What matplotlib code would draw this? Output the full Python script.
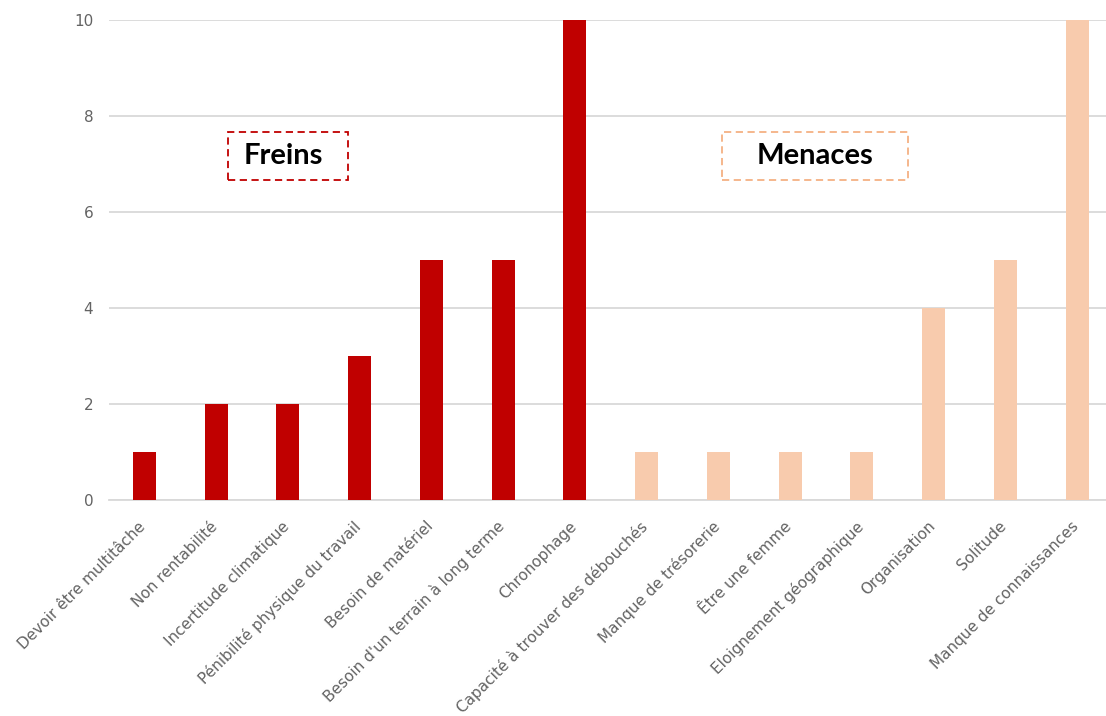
import matplotlib
matplotlib.use("Agg")
import matplotlib.pyplot as plt
from matplotlib.patches import Rectangle
from matplotlib.transforms import ScaledTranslation

categories = [
    "Devoir être multitâche", "Non rentabilité", "Incertitude climatique",
    "Pénibilité physique du travail", "Besoin de matériel",
    "Besoin d'un terrain à long terme", "Chronophage",
    "Capacité à trouver des débouchés", "Manque de trésorerie",
    "Être une femme", "Eloignement géographique", "Organisation",
    "Solitude", "Manque de connaissances",
]
values = [1, 2, 2, 3, 5, 5, 10, 1, 1, 1, 1, 4, 5, 10]
groups = ["Freins"] * 7 + ["Menaces"] * 7
group_colors = {"Freins": "#C00000", "Menaces": "#F8CBAD"}
box_colors = {"Freins": "#C00000", "Menaces": "#F4B183"}
yticks = [0, 2, 4, 6, 8, 10]

plt.rcParams['font.family'] = ['DejaVu Sans']

fig = plt.figure(figsize=(11.06, 7.16), dpi=100)
W, H = 1106, 716
left, right, top, bottom = 108.6, 1113.0, 20, 500
ax = fig.add_axes([left / W, 1 - bottom / H, (right - left) / W, (bottom - top) / H])

x = list(range(len(categories)))
ax.bar(x, values, width=0.32, color=[group_colors[g] for g in groups], zorder=3)

ax.set_xlim(-0.5, len(categories) - 0.5)
ax.set_ylim(0, 10)
ax.set_yticks(yticks)
ax.yaxis.grid(True, color="#D9D9D9", linewidth=1.3, zorder=0)
ax.set_axisbelow(True)
for s in ["top", "right", "left"]:
    ax.spines[s].set_visible(False)
ax.spines["bottom"].set_color("#D9D9D9")
ax.spines["bottom"].set_linewidth(1.3)
ax.tick_params(axis="both", length=0, colors="#636363", labelsize=11)
ax.tick_params(axis="y", pad=11)
ax.tick_params(axis="x", pad=0)
ax.set_xticks(x)
ax.set_xticklabels(categories, rotation=45, ha="right", va="center", rotation_mode="anchor")
off = ScaledTranslation(-1 / 100, -24 / 100, fig.dpi_scale_trans)
for lbl in ax.get_xticklabels():
    lbl.set_transform(lbl.get_transform() + off)

# group label boxes
boxes = [("Freins", 2.0, 1.66, -0.06), ("Menaces", 9.35, 2.59, 0.0)]
for name, cx, w, dx in boxes:
    rect = Rectangle((cx - w / 2, 6.67), w, 1.0, fill=False, edgecolor=box_colors[name],
                     linestyle=(0, (4, 2.5)), linewidth=1.3, zorder=4)
    ax.add_patch(rect)
    ax.text(cx + dx, 7.17, name, ha="center", va="center", fontsize=21, fontweight="bold",
            color="black", zorder=5, family=["Lato", "DejaVu Sans"])

fig.savefig("out.png", dpi=100)
